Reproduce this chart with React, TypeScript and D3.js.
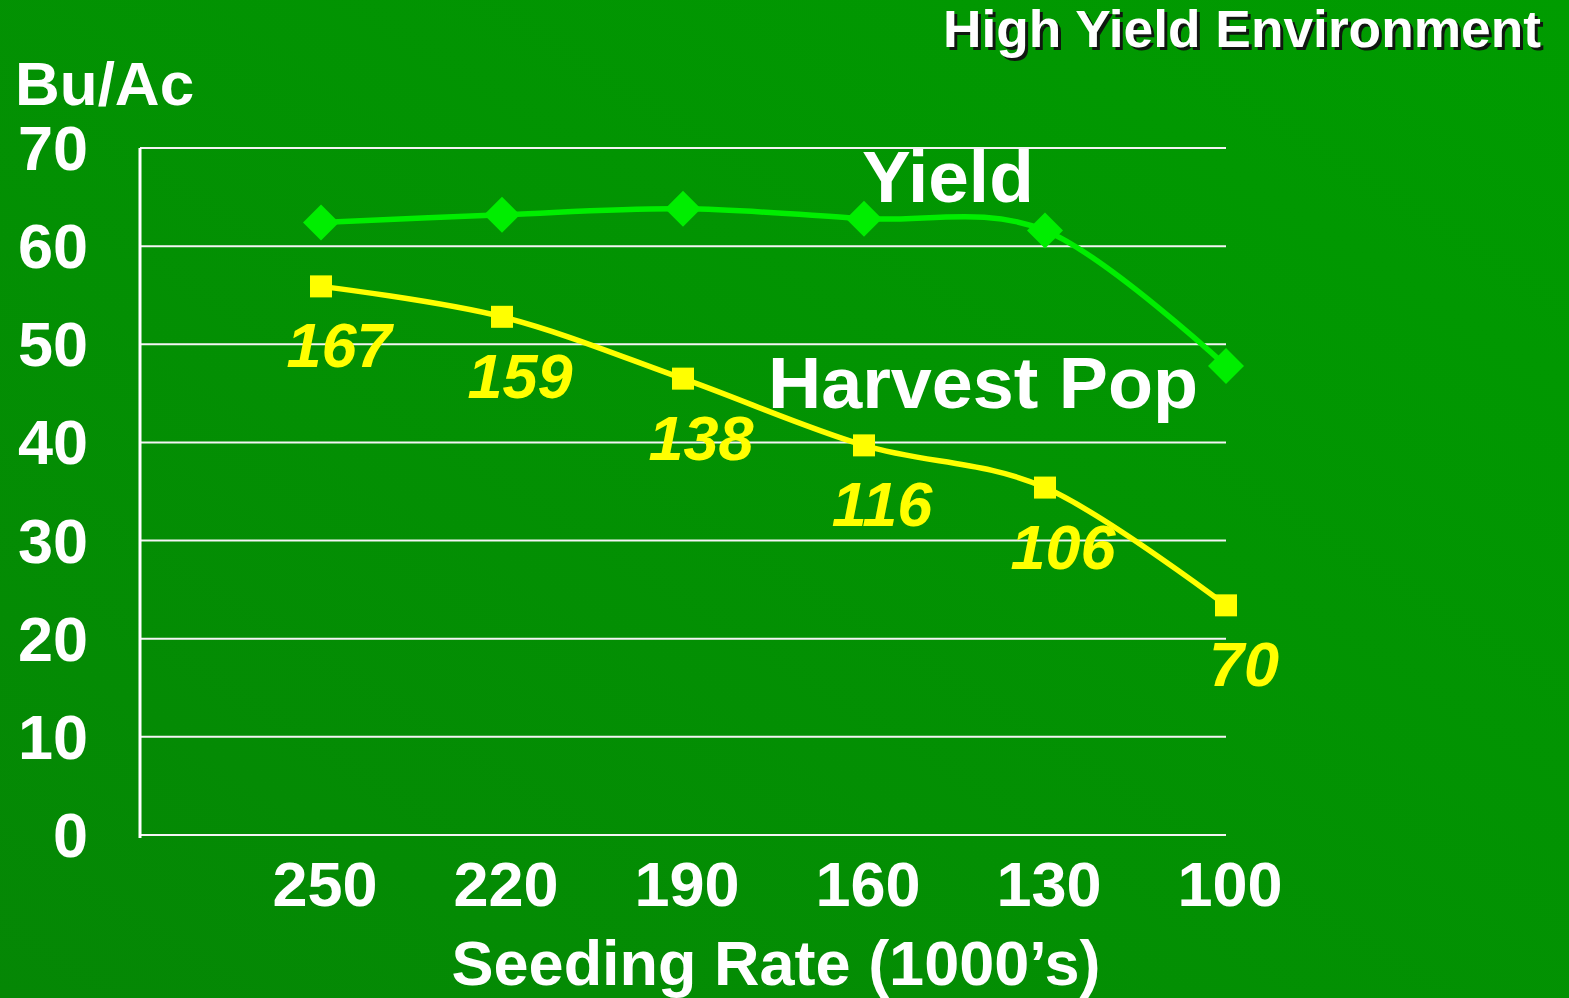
import * as d3 from "d3";

// seeding rate categories (1000's), left to right
const seedingRates = ["250", "220", "190", "160", "130", "100"];
// yield, Bu/Ac
const yieldValues = [62.4, 63.2, 63.8, 62.8, 61.6, 47.8];
// harvest population as plotted on the Bu/Ac axis, plus its printed labels
const harvestPopPlot = [55.9, 52.8, 46.5, 39.7, 35.4, 23.4];
const harvestPopLabels = ["167", "159", "138", "116", "106", "70"];
const yTicks = [0, 10, 20, 30, 40, 50, 60, 70];

const W = 1569;
const H = 998;
const FONT = "'Liberation Sans', Arial, Helvetica, sans-serif";

export default function App() {
  const x = d3.scalePoint<string>().domain(["", ...seedingRates]).range([140, 1226]);
  const y = d3.scaleLinear().domain([0, 70]).range([835, 148]);

  const line = d3
    .line<number>()
    .x((_, i) => x(seedingRates[i])!)
    .y((d) => y(d))
    .curve(d3.curveCardinal.tension(0));

  const diamond = (cx: number, cy: number, r: number) =>
    `M${cx},${cy - r}L${cx + r},${cy}L${cx},${cy + r}L${cx - r},${cy}Z`;

  return (
    <svg
      width={W}
      height={H}
      style={{ position: "absolute", left: 0, top: 0, display: "block" }}
      fontFamily={FONT}
      fontWeight="bold"
    >
      <defs>
        <linearGradient id="bg" x1="1" y1="0" x2="0" y2="1">
          <stop offset="0" stopColor="#009c00" />
          <stop offset="1" stopColor="#058705" />
        </linearGradient>
      </defs>
      <rect width={W} height={H} fill="url(#bg)" />

      {/* title with drop shadow */}
      <g fontSize={51}>
        <text x={1544} y={50} textAnchor="end" fill="#101810" textLength={598} lengthAdjust="spacingAndGlyphs">
          High Yield Environment
        </text>
        <text x={1541} y={47} textAnchor="end" fill="#ffffff" textLength={598} lengthAdjust="spacingAndGlyphs">
          High Yield Environment
        </text>
      </g>

      <text x={15} y={105} fill="#fff" fontSize={62}>
        Bu/Ac
      </text>

      {/* gridlines */}
      {yTicks.map((t) => (
        <line key={t} x1={140} x2={1226} y1={y(t)} y2={y(t)} stroke="#f4f4f4" strokeWidth={2} />
      ))}
      <line x1={140} x2={140} y1={y(70)} y2={y(0) + 3} stroke="#fff" strokeWidth={3} />

      {/* y tick labels */}
      {yTicks.map((t) => (
        <text key={t} x={88} y={y(t) + 22} textAnchor="end" fill="#fff" fontSize={63}>
          {t}
        </text>
      ))}

      {/* x tick labels */}
      {seedingRates.map((c) => (
        <text key={c} x={x(c)! + 4} y={906} textAnchor="middle" fill="#fff" fontSize={63}>
          {c}
        </text>
      ))}
      <text x={776} y={985} textAnchor="middle" fill="#fff" fontSize={63}>
        Seeding Rate (1000’s)
      </text>

      {/* yield series */}
      <path d={line(yieldValues) ?? ""} fill="none" stroke="#00ee00" strokeWidth={5.5} />
      {yieldValues.map((v, i) => (
        <path key={i} d={diamond(x(seedingRates[i])!, y(v), 18)} fill="#00ee00" />
      ))}

      {/* harvest pop series */}
      <path d={line(harvestPopPlot) ?? ""} fill="none" stroke="#ffff00" strokeWidth={5.5} />
      {harvestPopPlot.map((v, i) => (
        <rect key={i} x={x(seedingRates[i])! - 11} y={y(v) - 11} width={22} height={22} fill="#ffff00" />
      ))}
      {harvestPopPlot.map((v, i) => (
        <text
          key={i}
          x={x(seedingRates[i])! + 18}
          y={y(v) + 81}
          textAnchor="middle"
          fill="#ffff00"
          fontSize={63}
          fontStyle="italic"
        >
          {harvestPopLabels[i]}
        </text>
      ))}

      {/* series names */}
      <text x={862} y={202} fill="#fff" fontSize={73}>
        Yield
      </text>
      <text x={768} y={408} fill="#fff" fontSize={73} textLength={430} lengthAdjust="spacingAndGlyphs">
        Harvest Pop
      </text>
    </svg>
  );
}
